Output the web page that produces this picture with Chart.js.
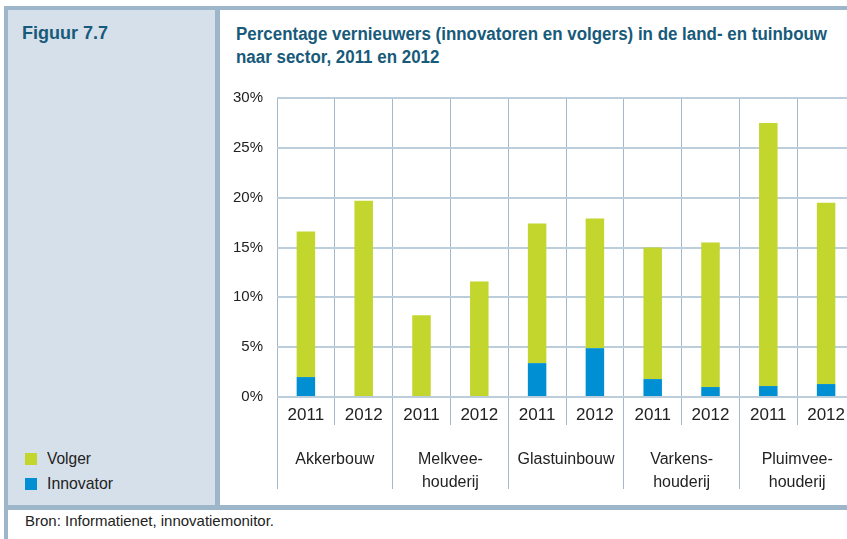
<!DOCTYPE html>
<html>
<head>
<meta charset="utf-8">
<script src="https://cdn.jsdelivr.net/npm/chart.js@4"></script>
<style>
  html, body { margin:0; padding:0; }
  body { width:847px; height:539px; overflow:hidden; background:#fff; position:relative;
         font-family:'Liberation Sans',Arial,sans-serif; }
  .bar { position:absolute; background:#9db6ca; }
  #panel { position:absolute; left:8px; top:10px; width:207px; height:495px; background:#d6e0ea; }
  .fit { display:inline-block; white-space:nowrap; transform-origin:0 0; }
  #fig { position:absolute; left:22px; top:23px; font-weight:bold; font-size:18px; color:#175a7a; }
  #title { position:absolute; left:236px; top:23px; font-weight:bold; font-size:18px; line-height:23px; color:#175a7a; }
  #legend { position:absolute; left:25px; top:448px; font-size:17px; color:#222; }
  .li { height:25px; line-height:22px; position:relative; padding-left:22px; }
  .sw { position:absolute; left:0; top:5px; width:12px; height:12px; }
  #src { position:absolute; left:25px; top:512px; font-size:15px; color:#222; }
  #wrap { position:absolute; left:220px; top:75px; width:635px; height:430px; }
</style>
</head>
<body>
<div class="bar" style="left:4px;top:6px;width:843px;height:4px"></div>
<div class="bar" style="left:4px;top:6px;width:4px;height:533px"></div>
<div id="panel"></div>
<div class="bar" style="left:215px;top:6px;width:5px;height:503px"></div>
<div class="bar" style="left:4px;top:505px;width:843px;height:5px"></div>
<div id="fig"><span class="fit" data-w="86">Figuur 7.7</span></div>
<div id="title"><span class="fit" data-w="591">Percentage vernieuwers (innovatoren en volgers) in de land- en tuinbouw</span><br><span class="fit" data-s="1">naar sector, 2011 en 2012</span></div>
<div id="legend"></div>
<div id="src"><span class="fit" data-w="249">Bron: Informatienet, innovatiemonitor.</span></div>
<div id="wrap"><canvas id="c" width="635" height="430"></canvas></div>
<script>
const years = ['2011','2012','2011','2012','2011','2012','2011','2012','2011','2012'];
const sectors = ['Akkerbouw', ['Melkvee-','houderij'], 'Glastuinbouw', ['Varkens-','houderij'], ['Pluimvee-','houderij']];
const innovator = [2.0, 0, 0, 0, 3.4, 4.9, 1.8, 1.0, 1.1, 1.3];
const volger = [14.6, 19.7, 8.2, 11.6, 14.0, 13.0, 13.2, 14.5, 26.4, 18.2];
const yTicks = [0, 5, 10, 15, 20, 25, 30];

const FONT = "'Liberation Sans',Arial,sans-serif";
const GREEN = '#c2d62e', BLUE = '#008fd3';

const datasets = [
  { label:'Innovator', data:innovator, backgroundColor:BLUE, stack:'s' },
  { label:'Volger', data:volger, backgroundColor:GREEN, stack:'s' }
];

// HTML legend (Volger on top)
const legW = { 'Volger':44, 'Innovator':66 };
const leg = document.getElementById('legend');
datasets.slice().reverse().forEach(d => {
  const li = document.createElement('div'); li.className='li';
  const sw = document.createElement('span'); sw.className='sw'; sw.style.background=d.backgroundColor;
  const t = document.createElement('span'); t.className='fit'; t.dataset.w = legW[d.label]; t.textContent = d.label;
  li.appendChild(sw); li.appendChild(t);
  leg.appendChild(li);
});

// horizontally compress text to the condensed widths of the original
let titleScale = 1;
document.querySelectorAll('.fit[data-w]').forEach(el => {
  const s = (+el.dataset.w) / el.getBoundingClientRect().width;
  el.style.transform = 'scaleX(' + s + ')';
  if (el.parentNode.id === 'title') titleScale = s;
});
document.querySelectorAll('.fit[data-s]').forEach(el => { el.style.transform = 'scaleX(' + titleScale + ')'; });

new Chart(document.getElementById('c'), {
  type:'bar',
  data:{ labels:years, datasets: datasets.map(d => Object.assign({barPercentage:0.32, categoryPercentage:1}, d)) },
  options:{
    responsive:false, animation:false,
    layout:{ padding:{ top:0, right:0, bottom:0, left:0 } },
    plugins:{ legend:{display:false}, tooltip:{enabled:false} },
    scales:{
      x:{ stacked:true, offset:true,
          grid:{ offset:true, color:'#a3b9cb', lineWidth:1, tickLength:28, drawOnChartArea:true },
          border:{ display:false },
          ticks:{ font:{ family:FONT, size:17 }, color:'#222', padding:-20, maxRotation:0, autoSkip:false },
          afterFit:s => { s.height = 28; } },
      x2:{ type:'category', labels:sectors, position:'bottom', offset:true,
          grid:{ offset:true, color:'#a3b9cb', lineWidth:1, tickLength:64, drawOnChartArea:false },
          border:{ display:false },
          ticks:{ font:{ family:FONT, size:16, lineHeight:23/16 }, color:'#222', padding:-41, maxRotation:0, autoSkip:false },
          afterFit:s => { s.height = 80; } },
      y:{ stacked:true, min:0, max:30,
          afterBuildTicks:s => { s.ticks = yTicks.map(v => ({value:v})); },
          grid:{ color:'#bccddb', lineWidth:2, drawTicks:false },
          border:{ display:false },
          ticks:{ font:{ family:FONT, size:15 }, color:'#222', padding:14, callback:v => v + '%' },
          afterFit:s => { s.width = 57; } }
    }
  }
});
</script>
</body>
</html>
